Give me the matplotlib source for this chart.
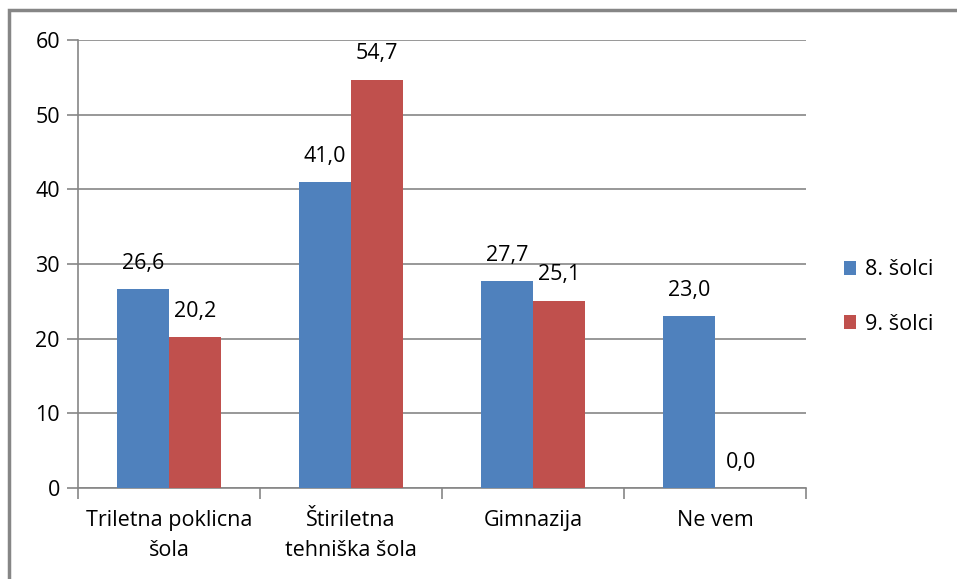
import numpy as np
import matplotlib.pyplot as plt
from matplotlib.patches import Rectangle

categories = ['Triletna poklicna\nšola', 'Štiriletna\ntehniška šola', 'Gimnazija', 'Ne vem']
series_names = ['8. šolci', '9. šolci']
vals_8 = [26.6, 41.0, 27.7, 23.0]
vals_9 = [20.2, 54.7, 25.1, 0.0]
colors = ['#4F81BD', '#C0504D']

plt.rcParams['font.family'] = ['Open Sans', 'DejaVu Sans']
grid_c = '#868686'
fs = 15.5

fig = plt.figure(figsize=(9.57, 5.79), dpi=100)
ax = fig.add_axes([78 / 957, 1 - 488 / 579, (806 - 78) / 957, (488 - 40) / 579])

x = np.arange(len(categories))
w = 0.285
b1 = ax.bar(x - w / 2, vals_8, w, color=colors[0], label=series_names[0], zorder=3)
b2 = ax.bar(x + w / 2, vals_9, w, color=colors[1], label=series_names[1], zorder=3)

for bars in (b1, b2):
    for r in bars:
        h = r.get_height()
        ax.annotate(f'{h:.1f}'.replace('.', ','), (r.get_x() + r.get_width() / 2, h),
                    xytext=(0, 11), textcoords='offset points', ha='center', va='bottom',
                    fontsize=fs, color='#000000')

ax.set_xlim(-0.5, len(categories) - 0.5)
ax.set_ylim(0, 60)
ax.set_yticks(np.arange(0, 61, 10))
ax.yaxis.grid(True, color=grid_c, linewidth=1.2, zorder=0)
ax.set_axisbelow(True)

ax.set_xticks(np.arange(-0.5, len(categories), 1.0))
ax.set_xticklabels([])
ax.set_xticks(x, minor=True)
ax.set_xticklabels(categories, minor=True, fontsize=fs, linespacing=1.55)
ax.tick_params(axis='x', which='minor', length=0, pad=16)
ax.tick_params(axis='x', which='major', length=8, width=1.2, color=grid_c)
ax.tick_params(axis='y', length=8, width=1.2, color=grid_c, labelsize=fs, pad=5)

for s in ['top', 'right']:
    ax.spines[s].set_visible(False)
for s in ['left', 'bottom']:
    ax.spines[s].set_color(grid_c)
    ax.spines[s].set_linewidth(1.2)

ax.legend(loc='center left', bbox_to_anchor=(1.025, 0.426), frameon=False, fontsize=fs,
          handlelength=0.6, handleheight=0.6, handletextpad=0.4, labelspacing=1.55)

fig.patches.append(Rectangle((9 / 957, -0.05), 1.0, 1.05 - 10 / 579,
                             transform=fig.transFigure, fill=False, edgecolor=grid_c,
                             linewidth=2.5))

fig.savefig('out.png', dpi=100)
